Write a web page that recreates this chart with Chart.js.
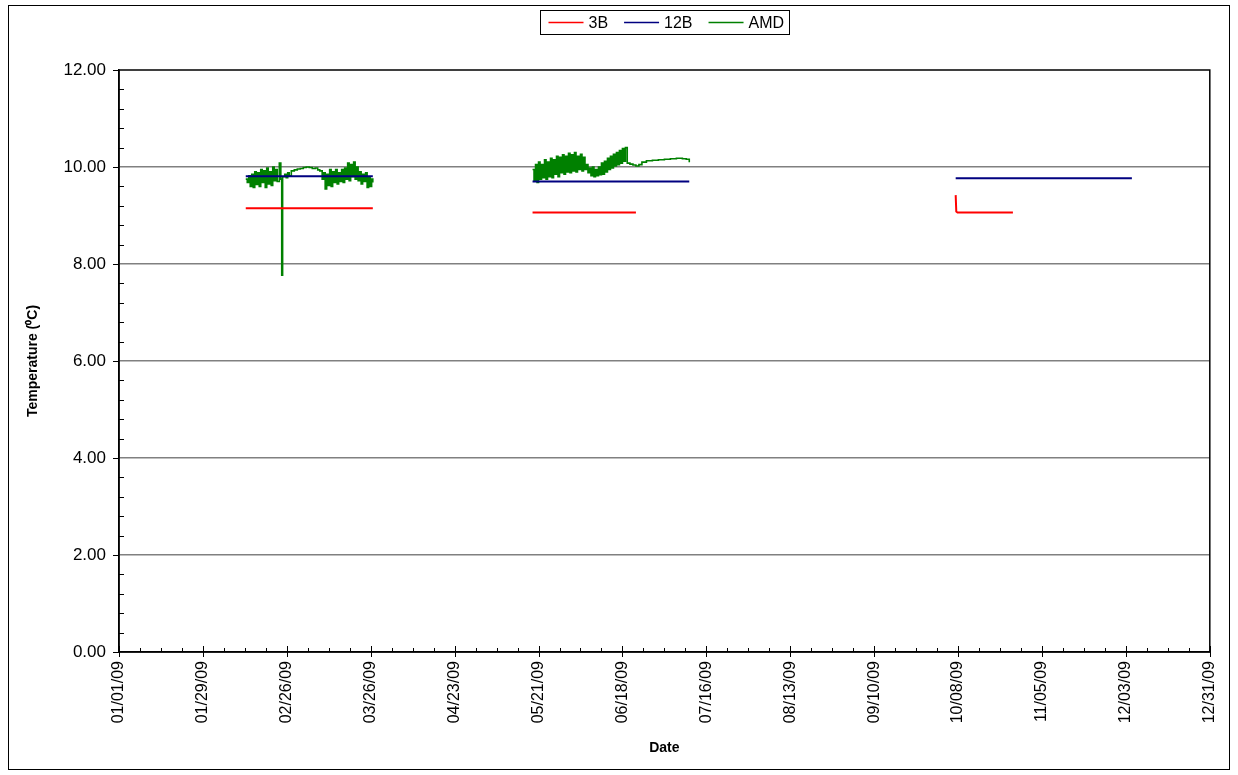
<!DOCTYPE html>
<html>
<head>
<meta charset="utf-8">
<script src="https://cdn.jsdelivr.net/npm/chart.js@4.4.0/dist/chart.umd.min.js"></script>
<style>
html,body{margin:0;padding:0;background:#fff;}
#wrap{width:1238px;height:775px;position:relative;}
</style>
</head>
<body>
<div id="wrap"><canvas id="tempChart" width="1238" height="775"></canvas></div>
<script>
// x values are days since 01/01/09
var tickDays=[0,28,56,84,112,140,168,196,224,252,280,308,336,364];
var tickLabels=["01/01/09","01/29/09","02/26/09","03/26/09","04/23/09","05/21/09","06/18/09",
    "07/16/09","08/13/09","09/10/09","10/08/09","11/05/09","12/03/09","12/31/09"];

// null = gap between logger deployments
var days3B=[42.3,84.7,85,138,172.5,173,173.6,174,279.2,279.4,279.8,298.3];
var temps3B=[9.15,9.15,null,9.06,9.06,null,9.03,null,9.42,9.08,9.06,9.06];

var days12B=[42.3,84.7,85,138,190.3,191,279.2,338];
var temps12B=[9.81,9.81,null,9.70,9.70,null,9.77,9.77];

var daysAMD=[42.3,42.8,43.3,43.8,44.3,44.8,45.3,45.8,46.3,46.8,47.3,47.8,48.3,48.8,49.3,49.8,
    50.3,50.8,51.3,51.8,52.3,52.8,53.5,54.0,54.3,54.6,55.3,55.8,56.3,56.8,57.5,58.5,59.5,60.5,
    61.5,62.5,63.5,64.5,65.5,66.3,67.0,67.8,68.3,68.8,69.3,69.8,70.3,70.8,71.3,71.8,72.3,72.8,
    73.3,73.8,74.3,74.8,75.3,75.8,76.3,76.8,77.3,77.8,78.3,78.8,79.3,79.8,80.3,80.8,81.3,81.8,
    82.3,82.8,83.3,83.8,84.3,84.7,85,
    138.0,138.5,139.0,139.5,140.0,140.5,141.0,141.5,142.0,142.5,143.0,143.5,144.0,144.5,145.0,
    145.5,146.0,146.5,147.0,147.5,148.0,148.5,149.0,149.5,150.0,150.5,151.0,151.5,152.0,152.5,
    153.0,153.5,154.0,154.5,155.0,155.5,156.0,156.5,157.0,157.5,158.0,158.5,159.0,159.5,160.0,
    160.5,161.0,161.5,162.0,162.5,163.0,163.5,164.0,164.5,165.0,165.5,166.0,166.5,167.0,167.5,
    168.0,168.5,169.0,169.6,170.5,171.5,172.5,173.5,174.5,176,178,180,182,184,186,188,189.3,190.3];
var tempsAMD=[9.75,9.68,9.82,9.60,9.85,9.58,9.90,9.64,9.88,9.60,9.95,9.68,9.92,9.58,9.98,9.65,
    9.90,9.62,10.00,9.72,9.95,9.70,10.08,9.75,7.77,9.80,9.85,9.78,9.88,9.82,9.92,9.94,9.96,9.97,
    9.99,10.00,9.99,9.97,9.98,9.94,9.92,9.75,9.88,9.55,9.85,9.62,9.95,9.60,9.90,9.68,9.95,9.65,
    9.88,9.70,9.95,9.68,9.98,9.75,10.08,9.72,10.05,9.80,10.10,9.75,10.00,9.72,9.90,9.65,9.85,9.70,
    9.88,9.58,9.80,9.60,9.75,9.68,null,
    9.95,9.72,10.05,9.68,10.10,9.75,10.05,9.78,10.15,9.75,10.10,9.80,10.18,9.78,10.15,
    9.85,10.22,9.80,10.20,9.88,10.25,9.85,10.22,9.90,10.28,9.88,10.25,9.92,10.30,9.90,
    10.22,9.95,10.26,9.92,10.20,9.95,10.05,9.88,9.98,9.82,10.00,9.80,9.95,9.82,10.00,
    9.84,10.08,9.85,10.12,9.90,10.18,9.95,10.22,9.98,10.26,10.02,10.30,10.05,10.34,10.08,
    10.38,10.12,10.40,10.08,10.06,10.04,10.02,10.05,10.10,10.13,10.14,10.15,10.16,10.17,10.18,10.17,10.16,10.10];

function toPoints(xs,ys){
    var pts=[];
    for(var i=0;i<xs.length;i++){
        pts.push({x:xs[i],y:ys[i]});
    }
    return pts;
}

var FONT="'Liberation Sans', Arial, sans-serif";

//draws frame, plot border, tick marks and boxed legend
var excelLook={
    id:"excelLook",
    afterDraw:function(chart){
        var ctx=chart.ctx;
        var a=chart.chartArea;
        var xs=chart.scales.x, ys=chart.scales.y;
        ctx.save();
        ctx.strokeStyle="#000";
        ctx.lineWidth=1;
        ctx.strokeRect(8.5,5.5,1221,764);
        ctx.lineWidth=1.5;
        ctx.strokeRect(a.left,a.top,a.right-a.left,a.bottom-a.top);
        ctx.lineWidth=1;
        ctx.beginPath();
        for(var d=0;d<=364;d+=7){
            var px=Math.round(xs.getPixelForValue(d))+0.5;
            if(d%28===0){ctx.moveTo(px,a.bottom-6);ctx.lineTo(px,a.bottom+5);}
            else{ctx.moveTo(px,a.bottom-4);ctx.lineTo(px,a.bottom);}
        }
        for(var k=0;k<=30;k++){
            var py=Math.round(ys.getPixelForValue(k*0.4))+0.5;
            if(k%5===0){ctx.moveTo(a.left-6,py);ctx.lineTo(a.left,py);}
            else{ctx.moveTo(a.left,py);ctx.lineTo(a.left+5,py);}
        }
        ctx.stroke();

        // legend
        ctx.font="16px "+FONT;
        var sets=chart.data.datasets;
        var total=8+5;
        for(var i=0;i<sets.length;i++){
            total+=40+ctx.measureText(sets[i].label).width;
            if(i<sets.length-1) total+=16;
        }
        var bx=Math.round(664.5-total/2)+0.5, by=10.5, bh=24;
        ctx.strokeRect(bx,by,Math.round(total),bh);
        var x=bx+8;
        ctx.textBaseline="middle";
        ctx.textAlign="left";
        for(var j=0;j<sets.length;j++){
            ctx.strokeStyle=sets[j].borderColor;
            ctx.lineWidth=1.5;
            ctx.beginPath();
            ctx.moveTo(x,by+bh/2);ctx.lineTo(x+35,by+bh/2);
            ctx.stroke();
            ctx.fillStyle="#000";
            ctx.fillText(sets[j].label,x+40,by+bh/2+1);
            x+=40+ctx.measureText(sets[j].label).width+16;
        }
        ctx.restore();
    }
};

var ctx=document.getElementById("tempChart").getContext("2d");
var tempChart=new Chart(ctx,{
    type:"line",
    data:{
        datasets:[
            {label:"3B",data:toPoints(days3B,temps3B),borderColor:"#ff0000",backgroundColor:"#ff0000",borderWidth:2},
            {label:"12B",data:toPoints(days12B,temps12B),borderColor:"#000080",backgroundColor:"#000080",borderWidth:2},
            {label:"AMD",data:toPoints(daysAMD,tempsAMD),borderColor:"#008000",backgroundColor:"#008000",borderWidth:1.6,stepped:true}
        ]
    },
    options:{
        responsive:false,
        animation:false,
        spanGaps:false,
        elements:{point:{radius:0,hoverRadius:0},line:{tension:0}},
        layout:{padding:{left:10,right:27,top:70,bottom:10}},
        plugins:{legend:{display:false},tooltip:{enabled:false}},
        scales:{
            x:{
                type:"linear",
                min:0,max:364,
                afterBuildTicks:function(scale){
                    scale.ticks=tickDays.map(function(v){return {value:v};});
                },
                afterFit:function(scale){scale.height=113;},
                grid:{display:false,drawTicks:false},
                border:{display:true,color:"#000",width:1.5},
                ticks:{
                    autoSkip:false,minRotation:90,maxRotation:90,padding:9,color:"#000",
                    font:{family:FONT,size:16},
                    callback:function(v,i){return tickLabels[i];}
                },
                title:{display:true,text:"Date",color:"#000",font:{family:FONT,size:14,weight:"bold"},padding:{top:0,bottom:8}}
            },
            y:{
                min:0,max:12,
                afterFit:function(scale){scale.width=109;},
                grid:{
                    drawTicks:false,
                    color:function(c){return (c.tick.value===0||c.tick.value===12)?"rgba(0,0,0,0)":"#808080";},
                    lineWidth:1.5
                },
                border:{display:true,color:"#000",width:1.5},
                ticks:{
                    stepSize:2,padding:13,color:"#000",
                    font:{family:FONT,size:17},
                    callback:function(v){return v.toFixed(2);}
                },
                title:{display:true,text:"Temperature (\u2070C)",color:"#000",font:{family:FONT,size:14,weight:"bold"},padding:{top:15,bottom:0}}
            }
        }
    },
    plugins:[excelLook]
});
</script>
</body>
</html>
